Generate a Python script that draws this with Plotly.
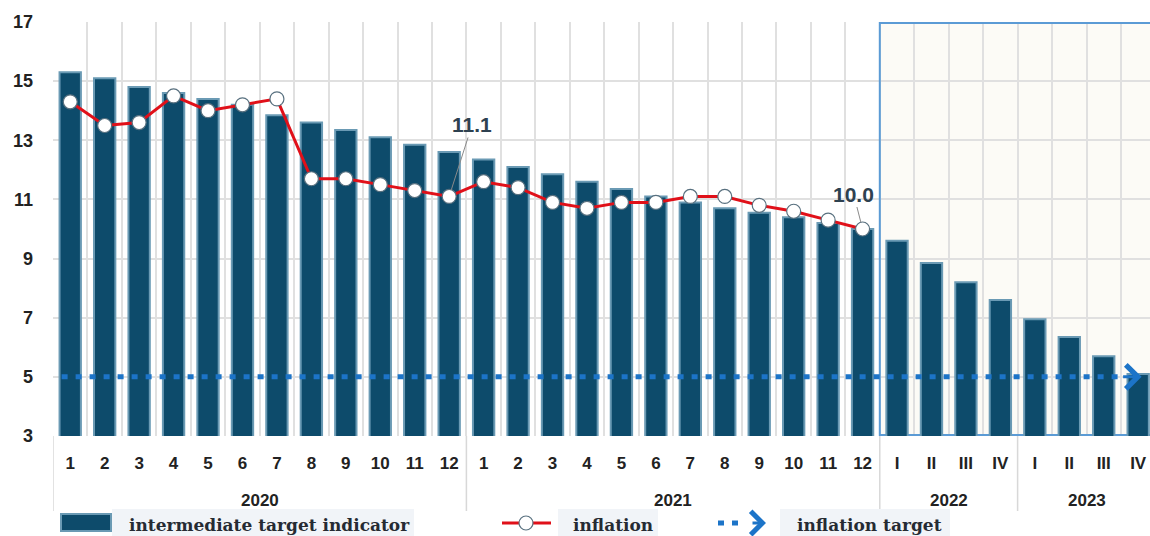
import plotly.graph_objects as go

# ---------------- data ----------------
years = ["2020", "2021", "2022", "2023"]
year_sizes = [12, 12, 4, 4]
periods = ["1", "2", "3", "4", "5", "6", "7", "8", "9", "10", "11", "12",
           "1", "2", "3", "4", "5", "6", "7", "8", "9", "10", "11", "12",
           "I", "II", "III", "IV", "I", "II", "III", "IV"]
indicator = [15.3, 15.1, 14.8, 14.6, 14.4, 14.2, 13.85, 13.6, 13.35, 13.1, 12.85, 12.6,
             12.35, 12.1, 11.85, 11.6, 11.35, 11.1, 10.9, 10.7, 10.55, 10.4, 10.2, 10.0,
             9.6, 8.85, 8.2, 7.6, 6.95, 6.35, 5.7, 5.1]
inflation = [14.3, 13.5, 13.6, 14.5, 14.0, 14.2, 14.4, 11.7, 11.7, 11.5, 11.3, 11.1,
             11.6, 11.4, 10.9, 10.7, 10.9, 10.9, 11.1, 11.1, 10.8, 10.6, 10.3, 10.0]
target_value = 5.0
labelled_points = [11, 23]  # indices of inflation values with labels
forecast_start = 24         # first forecast period (quarters)

# ---------------- geometry helpers (paper coords from pixels) ----------------
W, H = 1150, 536
ML, MT, MB = 53, 22, 100
PW = W - ML
PH = H - MT - MB


def px(x):
    return (x - ML) / PW


def py(y):
    return (H - MB - y) / PH


BAR_FILL = "#0d4b6b"
BAR_EDGE = "#6a9ab4"
RED = "#e01019"
BLUE = "#1c74c8"
TXT = "#222222"
GRID = "#e0e0e0"

n = len(periods)
xs = list(range(n))
m = len(inflation)

fig = go.Figure()

fig.add_trace(go.Bar(
    x=xs, y=indicator, width=0.62,
    marker=dict(color=BAR_FILL, line=dict(color=BAR_EDGE, width=2)),
    name="intermediate target indicator",
))

fig.add_trace(go.Scatter(
    x=[xs[0] - 0.25, xs[-1] - 0.5], y=[target_value, target_value], mode="lines",
    line=dict(color=BLUE, width=5, dash="6px,8px"),
    name="inflation target",
))

fig.add_trace(go.Scatter(
    x=xs[:m], y=inflation, mode="lines+markers",
    line=dict(color=RED, width=3),
    marker=dict(symbol="circle", size=14, color="white",
                line=dict(color="#58707f", width=1.2)),
    name="inflation",
))

# forecast region (fill below grid, border above grid)
fig.add_shape(type="rect", xref="x", yref="y", x0=forecast_start - 0.5, x1=n + 2, y0=3, y1=17,
              fillcolor="#fcfbf6", line=dict(width=0), layer="below")
fig.add_shape(type="rect", xref="x", yref="y", x0=forecast_start - 0.5, x1=n + 2,
              y0=3.035, y1=16.965,
              fillcolor="rgba(0,0,0,0)", line=dict(color="#5b9bd5", width=2), layer="between")

# target arrow head
fig.add_annotation(x=n - 1 + 0.1, y=target_value, xref="x", yref="y", ax=-20, ay=0,
                   text="", showarrow=True, arrowhead=4, arrowsize=1.55,
                   arrowwidth=3, arrowcolor=BLUE)

# value labels
offsets = {11: (23, -72), 23: (-9, -35)}
for i in labelled_points:
    dx, dy = offsets[i]
    fig.add_annotation(x=i, y=inflation[i], xref="x", yref="y", ax=dx, ay=dy,
                       text="<b>%.1f</b>" % inflation[i], showarrow=True,
                       arrowhead=0, arrowwidth=1, arrowcolor="#8a8a8a", standoff=7,
                       font=dict(family="Arial, Liberation Sans", size=21, color="#2e4150"))

# year labels and dividers
start = 0
for yr, size in zip(years, year_sizes):
    fig.add_annotation(x=start + (size - 1) / 2, y=py(500), xref="x", yref="paper",
                       text="<b>%s</b>" % yr, showarrow=False, yanchor="middle",
                       font=dict(family="Arial, Liberation Sans", size=17, color=TXT))
    fig.add_shape(type="line", xref="x", yref="paper", x0=start - 0.5, x1=start - 0.5,
                  y0=0, y1=py(511), line=dict(color="#d8d8d8", width=1.5))
    start += size

# ---------------- manual legend ----------------
LEG_FONT = dict(family="DejaVu Serif", size=17, color="#262b33")
ly = 523
for x0, x1 in [(112, 414), (558, 658), (780, 950)]:
    fig.add_shape(type="rect", xref="paper", yref="paper", x0=px(x0), x1=px(x1),
                  y0=py(536), y1=py(509), fillcolor="#f1f4f8", line=dict(width=0), layer="above")
fig.add_shape(type="rect", xref="paper", yref="paper", x0=px(61), x1=px(111),
              y0=py(531), y1=py(514), fillcolor=BAR_FILL,
              line=dict(color=BAR_EDGE, width=2))
fig.add_shape(type="line", xref="paper", yref="paper", x0=px(502), x1=px(551),
              y0=py(ly), y1=py(ly), line=dict(color=RED, width=3))
fig.add_shape(type="circle", xref="paper", yref="paper", x0=px(519), x1=px(533),
              y0=py(530), y1=py(516), fillcolor="white", line=dict(color="#58707f", width=1.2))
fig.add_shape(type="line", xref="paper", yref="paper", x0=px(718), x1=px(745),
              y0=py(ly), y1=py(ly), line=dict(color=BLUE, width=5, dash="6px,8px"))
fig.add_annotation(x=px(766), y=py(ly), xref="paper", yref="paper", ax=-15, ay=0,
                   text="", showarrow=True, arrowhead=4, arrowsize=1.5,
                   arrowwidth=3, arrowcolor=BLUE)
for x0, t in [(127, "intermediate target indicator"), (571, "inflation"), (795, "inflation target")]:
    fig.add_annotation(x=px(x0), y=py(525), xref="paper", yref="paper", text="<b>%s</b>" % t,
                       showarrow=False, xanchor="left", yanchor="middle", font=LEG_FONT)

fig.update_layout(
    width=W, height=H,
    margin=dict(l=ML, r=0, t=MT, b=MB, pad=0),
    paper_bgcolor="white", plot_bgcolor="white",
    showlegend=False,
    font=dict(family="Arial, Liberation Sans", size=16, color=TXT),
)
fig.update_xaxes(
    range=[-0.5, -0.5 + PW / 34.45],
    tickmode="array", tickvals=xs, ticktext=periods,
    showgrid=False, ticks="", showline=False, zeroline=False,
    minor=dict(tick0=-0.5, dtick=1, showgrid=True, gridcolor=GRID, gridwidth=2, ticks=""),
    tickfont=dict(family="Arial, Liberation Sans", size=17, color=TXT, weight="bold"),
    ticklabelstandoff=15,
)
fig.update_yaxes(
    range=[3, 17], dtick=2, tick0=3,
    showgrid=True, gridcolor=GRID, gridwidth=2, zeroline=False,
    showline=False, ticks="",
    tickfont=dict(family="Arial, Liberation Sans", size=18, color=TXT, weight="bold"),
    ticklabelstandoff=19,
)

fig.write_html("out.html", config={"displayModeBar": False},
               post_script="document.body.style.margin='0';")
